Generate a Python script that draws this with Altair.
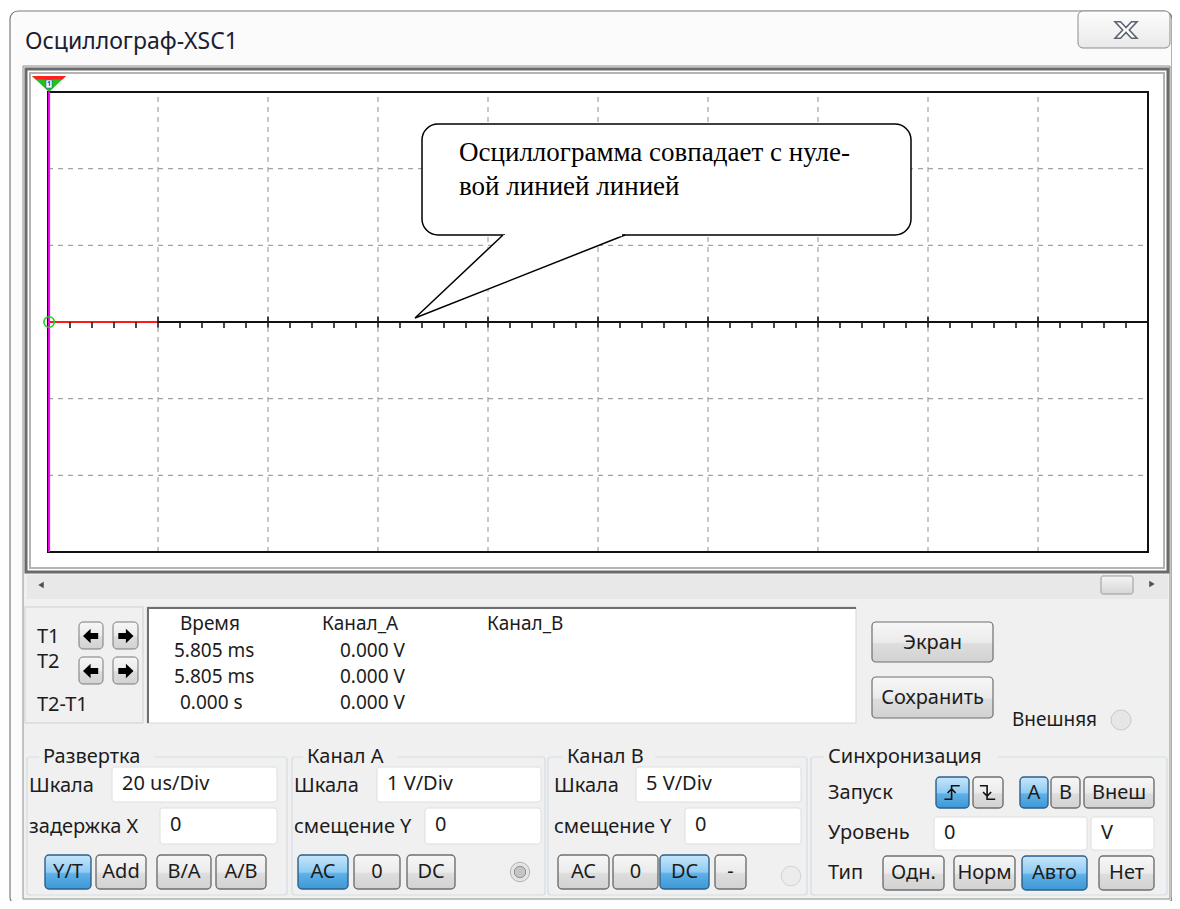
import altair as alt
import pandas as pd

# ---------------- values ----------------
WINDOW_TITLE = "Осциллограф-XSC1"
GRID_T_US = [0, 20, 40, 60, 80, 100, 120, 140, 160, 180, 200]   # 20 us/Div, 10 divisions
GRID_V = [-3, -2, -1, 0, 1, 2, 3]                                 # 1 V/Div, 6 divisions
MINOR_TICK_US = [t for t in range(0, 201, 4) if t % 20]           # graticule sub-divisions
TRACE_A_T_US = [0, 4, 8, 12, 16, 20]
TRACE_A_V = [0, 0, 0, 0, 0, 0]
CURSOR_T_US = 0.2
CALLOUT_LINES = ["Осциллограмма совпадает с нуле-", "вой линией линией"]
READ_HEADERS = ["Время", "Канал_А", "Канал_В"]
READ_ROW_LABELS = ["T1", "T2", "T2-T1"]
READ_TIME = ["5.805 ms", "5.805 ms", "0.000 s"]
READ_CH_A = ["0.000 V", "0.000 V", "0.000 V"]
SIDE_BUTTONS = ["Экран", "Сохранить"]
EXT_LABEL = "Внешняя"
GROUP_TITLES = ["Развертка", "Канал А", "Канал B", "Синхронизация"]
FIELD_LABELS = ["Шкала", "задержка X", "Шкала", "смещение Y", "Шкала", "смещение Y",
                "Запуск", "Уровень", "Тип"]
INPUT_VALUES = ["20 us/Div", "0", "1  V/Div", "0", "5  V/Div", "0", "0", "V"]
BUTTON_LABELS = ["Y/T", "Add", "B/A", "A/B", "AC", "0", "DC", "AC", "0", "DC", "-",
                 "A", "B", "Внеш", "Одн.", "Норм", "Авто", "Нет"]
BUTTON_ON = [True, False, False, False, True, False, False, False, False, True, False,
             True, False, False, False, False, True, False]
EDGE_ON = [True, False]

# ---------------- layout (pixels of the 1180x909 picture) ----------------
IMG_W, IMG_H, OFF = 1180, 909, 8
CW, CH = IMG_W - 2 * OFF, IMG_H - 2 * OFF
PX0, PX1, PY0, PY1 = 48, 1148, 92, 552
UI_FONT = "Noto Sans"
SERIF = "Liberation Serif"
TXT = "#1c1c1c"
LBL = 20
RD = 19

FIELD_POS = [(29, 786), (29, 827), (294, 786), (294, 827), (554, 786), (554, 827),
             (828, 793), (828, 833), (828, 873)]
INPUT_BOX = [(112, 277, 767, 802), (160, 277, 808, 844), (377, 541, 767, 802), (425, 541, 808, 844),
             (636, 801, 767, 802), (685, 801, 808, 844), (934, 1087, 817, 850), (1091, 1154, 817, 850)]
BUTTON_BOX = [(45, 91, 855, 889), (96, 146, 855, 889), (157, 211, 855, 889), (216, 266, 855, 889),
              (298, 348, 855, 889), (354, 400, 855, 889), (407, 455, 855, 889),
              (558, 609, 855, 889), (613, 658, 855, 889), (660, 709, 855, 889), (715, 746, 855, 889),
              (1020, 1048, 777, 808), (1051, 1080, 777, 808), (1084, 1154, 777, 808),
              (883, 944, 856, 890), (954, 1015, 856, 890), (1022, 1087, 856, 890), (1099, 1154, 856, 890)]
EDGE_BOX = [(936, 969, 777, 808), (973, 1003, 777, 808)]
GROUP_BOX = [(27, 287), (292, 545), (548, 807), (811, 1167)]
GROUP_TITLE_X = [43, 307, 567, 828]
GROUP_TITLE_W = [108, 86, 84, 166]


def ux(f):
    return alt.X(f, type="quantitative", axis=None,
                 scale=alt.Scale(domain=[0, IMG_W], range=[-OFF, IMG_W - OFF], nice=False, zero=False))


def uy(f):
    return alt.Y(f, type="quantitative", axis=None,
                 scale=alt.Scale(domain=[0, IMG_H], range=[-OFF, IMG_H - OFF], nice=False, zero=False))


def tx(f):
    return alt.X(f, type="quantitative", axis=None,
                 scale=alt.Scale(domain=[GRID_T_US[0], GRID_T_US[-1]], range=[PX0 - OFF, PX1 - OFF],
                                 nice=False, zero=False))


def vy(f):
    return alt.Y(f, type="quantitative", axis=None,
                 scale=alt.Scale(domain=[GRID_V[0], GRID_V[-1]], range=[PY1 - OFF, PY0 - OFF],
                                 nice=False, zero=False))


def rect_layer(rows, radius=0, gradient=None):
    d = pd.DataFrame(rows, columns=["x0", "x1", "y0", "y1", "fill", "stroke", "sw"])
    enc = dict(x=ux("x0"), x2=alt.X2("x1"), y=uy("y0"), y2=alt.Y2("y1"),
               stroke=alt.Stroke("stroke:N", scale=None),
               strokeWidth=alt.StrokeWidth("sw:Q", scale=None))
    if gradient is None:
        enc["fill"] = alt.Fill("fill:N", scale=None)
        m = alt.Chart(d).mark_rect(cornerRadius=radius, opacity=1)
    else:
        m = alt.Chart(d).mark_rect(cornerRadius=radius, fill=gradient, opacity=1)
    return m.encode(**enc)


def text_layer(rows, size, font=UI_FONT, color=TXT, align="left", baseline="middle", weight="normal"):
    d = pd.DataFrame(rows, columns=["x", "y", "text"])
    return alt.Chart(d).mark_text(align=align, baseline=baseline, font=font, fontSize=size,
                                  color=color, fontWeight=weight).encode(x=ux("x"), y=uy("y"), text="text:N")


def rule_layer(rows, color, width, dash=None):
    d = pd.DataFrame(rows, columns=["x0", "y0", "x1", "y1"])
    kw = dict(color=color, strokeWidth=width)
    if dash:
        kw["strokeDash"] = dash
    return alt.Chart(d).mark_rule(**kw).encode(x=ux("x0"), x2=alt.X2("x1"), y=uy("y0"), y2=alt.Y2("y1"))


def symbol_layer(rows, shape, size, fill=None, stroke=None, sw=1.0):
    d = pd.DataFrame(rows, columns=["x", "y"])
    kw = dict(shape=shape, size=size, opacity=1, strokeWidth=sw)
    if fill is None:
        kw["filled"] = False
    else:
        kw["filled"] = True
        kw["fill"] = fill
    if stroke is not None:
        kw["stroke"] = stroke
    else:
        kw["strokeWidth"] = 0
    return alt.Chart(d).mark_point(**kw).encode(x=ux("x"), y=uy("y"))


def grad(stops):
    return alt.LinearGradient(gradient="linear", x1=0, x2=0, y1=0, y2=1,
                              stops=[alt.GradientStop(color=c, offset=o) for o, c in stops])


GRAY_BTN = grad([(0, "#f7f7f7"), (0.5, "#ebebeb"), (0.55, "#dddddd"), (1, "#d2d2d2")])
BLUE_BTN = grad([(0, "#c7e6fb"), (0.5, "#8fcbf2"), (0.55, "#5fb0e6"), (1, "#3d98d6")])

layers = []

# window and title bar
layers.append(rect_layer([(10, 1172, 11, 905, "#fbfbfb", "#7c7c7c", 1.2)], radius=8))
layers.append(rect_layer([(1078, 1170, 11, 48, "", "#8d8d8d", 1)], radius=5,
                         gradient=grad([(0, "#fdfdfd"), (1, "#e9e9e9")])))
layers.append(symbol_layer([(1126, 30)],
                           "M -1 -0.75 L -0.5 -0.75 L 0 -0.22 L 0.5 -0.75 L 1 -0.75 L 0.3 0 L 1 0.75 "
                           "L 0.5 0.75 L 0 0.22 L -0.5 0.75 L -1 0.75 L -0.3 0 Z",
                           size=22 * 22, fill="#ffffff", stroke="#5f6472", sw=1.6))
layers.append(text_layer([(25, 42, WINDOW_TITLE)], 23, color="#1b2030"))

# content panel + screen frame
layers.append(rect_layer([(23, 1170, 66, 899, "#f0f0f0", "#8f8f8f", 1)]))
layers.append(rect_layer([(26, 1168, 69, 572, "#ffffff", "#6b6b6b", 3)]))
layers.append(rect_layer([(30, 1164, 73, 568, "#ffffff", "#b4b4b4", 2)]))

# scrollbar
layers.append(rect_layer([(27, 1168, 575, 599, "#e8e8e8", "#e8e8e8", 0)]))
layers.append(rect_layer([(1101, 1133, 576, 594, "", "#9a9a9a", 1)], radius=2,
                         gradient=grad([(0, "#f4f4f4"), (1, "#d6d6d6")])))
layers.append(symbol_layer([(41, 585)], "triangle-left", 40, fill="#505050"))
layers.append(symbol_layer([(1152, 584)], "triangle-right", 40, fill="#505050"))

# ---------------- oscilloscope screen (data scales) ----------------
grid_v = pd.DataFrame({"t": GRID_T_US[1:-1], "v0": GRID_V[0], "v1": GRID_V[-1]})
layers.append(alt.Chart(grid_v).mark_rule(color="#a4a4a4", strokeWidth=1.2, strokeDash=[5, 5]).encode(
    x=tx("t"), y=vy("v0"), y2=alt.Y2("v1")))
grid_h = pd.DataFrame({"v": GRID_V[1:-1], "t0": GRID_T_US[0], "t1": GRID_T_US[-1]})
layers.append(alt.Chart(grid_h).mark_rule(color="#a4a4a4", strokeWidth=1.2, strokeDash=[5, 5]).encode(
    y=vy("v"), x=tx("t0"), x2=alt.X2("t1")))
border = pd.DataFrame({"t0": [GRID_T_US[0]], "t1": [GRID_T_US[-1]], "v0": [GRID_V[0]], "v1": [GRID_V[-1]]})
layers.append(alt.Chart(border).mark_rect(fillOpacity=0, stroke="#111111", strokeWidth=2).encode(
    x=tx("t0"), x2=alt.X2("t1"), y=vy("v0"), y2=alt.Y2("v1")))
axis0 = pd.DataFrame({"v": [0], "t0": [GRID_T_US[0]], "t1": [GRID_T_US[-1]]})
layers.append(alt.Chart(axis0).mark_rule(color="#111111", strokeWidth=2).encode(
    y=vy("v"), x=tx("t0"), x2=alt.X2("t1")))
trace = pd.DataFrame({"t": TRACE_A_T_US, "v": TRACE_A_V})
layers.append(alt.Chart(trace).mark_line(color="#ff1a1a", strokeWidth=2.2).encode(x=tx("t"), y=vy("v")))
minor = pd.DataFrame({"t": MINOR_TICK_US, "v": 0})
layers.append(alt.Chart(minor).mark_tick(orient="vertical", size=6, thickness=1.6, color="#1a1a1a",
                                         yOffset=3, opacity=1).encode(x=tx("t"), y=vy("v")))
major = pd.DataFrame({"t": GRID_T_US[1:-1], "v": 0})
layers.append(alt.Chart(major).mark_tick(orient="vertical", size=11, thickness=1.6, color="#1a1a1a",
                                         opacity=1).encode(x=tx("t"), y=vy("v")))
cursor = pd.DataFrame({"t": [CURSOR_T_US], "v0": [GRID_V[0]], "v1": [GRID_V[-1]]})
layers.append(alt.Chart(cursor).mark_rule(color="#ff00ff", strokeWidth=2).encode(
    x=tx("t"), y=vy("v0"), y2=alt.Y2("v1")))
origin = pd.DataFrame({"t": [CURSOR_T_US], "v": [0]})
layers.append(alt.Chart(origin).mark_point(shape="circle", size=110, filled=False, color="#1ed21e",
                                           strokeWidth=1.6, opacity=1).encode(x=tx("t"), y=vy("v")))

# cursor flag
layers.append(symbol_layer([(49, 84)], "M -1 -0.47 L 1 -0.47 L 0 0.47 Z", 34 * 34, fill="#1fc21f"))
layers.append(symbol_layer([(49, 84)], "M -1 -0.47 L 1 -0.47 L 0.78 -0.26 L -0.78 -0.26 Z", 34 * 34,
                           fill="#ff2020"))
layers.append(rect_layer([(46, 52, 80, 88, "#ffffff", "#3050c0", 0.6)]))
layers.append(text_layer([(49, 84, "1")], 7, color="#2040c0", align="center", weight="bold"))

# callout
layers.append(rect_layer([(422, 911, 124, 235, "#ffffff", "#000000", 1.5)], radius=16))
layers.append(symbol_layer([(520, 276.5)], "M -0.162 -0.395 L -1 0.395 L 1 -0.395", 210 * 210,
                           fill="#ffffff", stroke="#000000", sw=1.5))
layers.append(rule_layer([(505, 235, 622, 235)], "#ffffff", 2.6))
layers.append(text_layer([(459, 161, CALLOUT_LINES[0]), (459, 195, CALLOUT_LINES[1])], 27,
                         font=SERIF, color="#000000", baseline="alphabetic"))

# ---------------- readout area ----------------
layers.append(rect_layer([(25, 143, 607, 723, "#f0f0f0", "#cfcfcf", 1)]))
layers.append(rect_layer([(147, 856, 607, 723, "#ffffff", "#d6d6d6", 1)]))
layers.append(rule_layer([(147, 608, 856, 608), (148, 607, 148, 723)], "#6e6e6e", 2))
layers.append(text_layer([(37, 637, READ_ROW_LABELS[0]), (37, 662, READ_ROW_LABELS[1]),
                          (37, 705, READ_ROW_LABELS[2])], LBL))
arrow_boxes = [(79, 103, 622, 649), (113, 138, 622, 649), (79, 103, 657, 684), (113, 138, 657, 684)]
layers.append(rect_layer([b + ("", "#7a7a7a", 1) for b in arrow_boxes], radius=4, gradient=GRAY_BTN))
larrow = "M -1 0 L -0.05 -0.9 L -0.05 -0.38 L 0.9 -0.38 L 0.9 0.38 L -0.05 0.38 L -0.05 0.9 Z"
rarrow = "M 1 0 L 0.05 -0.9 L 0.05 -0.38 L -0.9 -0.38 L -0.9 0.38 L 0.05 0.38 L 0.05 0.9 Z"
layers.append(symbol_layer([(91, 636), (91, 671)], larrow, 16 * 16, fill="#000000"))
layers.append(symbol_layer([(125.5, 636), (125.5, 671)], rarrow, 16 * 16, fill="#000000"))
layers.append(text_layer([(180, 624, READ_HEADERS[0]), (322, 624, READ_HEADERS[1]),
                          (487, 624, READ_HEADERS[2])], RD))
layers.append(text_layer([(174, 651, READ_TIME[0]), (174, 677, READ_TIME[1]), (180, 703, READ_TIME[2])], RD))
layers.append(text_layer([(340, 651, READ_CH_A[0]), (340, 677, READ_CH_A[1]), (340, 703, READ_CH_A[2])], RD))

side = [(872, 993, 622, 662), (872, 993, 677, 718)]
layers.append(rect_layer([b + ("", "#6f6f6f", 1.2) for b in side], radius=4, gradient=GRAY_BTN))
layers.append(text_layer([(932.5, 643, SIDE_BUTTONS[0]), (932.5, 698, SIDE_BUTTONS[1])], LBL, align="center"))
layers.append(text_layer([(1012, 720, EXT_LABEL)], 19))
layers.append(symbol_layer([(1121, 720)], "circle", 400, fill="#e6e6e6", stroke="#c9c9c9", sw=1))

# ---------------- control groups ----------------
layers.append(rect_layer([(g[0], g[1], 757, 895, "transparent", "#d3dde3", 1.2) for g in GROUP_BOX], radius=3))
layers.append(rect_layer([(x - 4, x + w + 4, 748, 766, "#f0f0f0", "#f0f0f0", 0)
                          for x, w in zip(GROUP_TITLE_X, GROUP_TITLE_W)]))
layers.append(text_layer([(x, 757, t) for x, t in zip(GROUP_TITLE_X, GROUP_TITLES)], LBL))
layers.append(text_layer([(p[0], p[1], t) for p, t in zip(FIELD_POS, FIELD_LABELS)], LBL))
layers.append(rect_layer([b + ("#ffffff", "#dedede", 1) for b in INPUT_BOX], radius=3))
layers.append(text_layer([(b[0] + 10, (b[2] + b[3]) / 2 - 1, v) for b, v in zip(INPUT_BOX, INPUT_VALUES)], LBL))

gray_b = [b for b, on in zip(BUTTON_BOX, BUTTON_ON) if not on] + [b for b, on in zip(EDGE_BOX, EDGE_ON) if not on]
blue_b = [b for b, on in zip(BUTTON_BOX, BUTTON_ON) if on] + [b for b, on in zip(EDGE_BOX, EDGE_ON) if on]
layers.append(rect_layer([b + ("", "#6f6f6f", 1.4) for b in gray_b], radius=4, gradient=GRAY_BTN))
layers.append(rect_layer([b + ("", "#2b5f8a", 1.4) for b in blue_b], radius=4, gradient=BLUE_BTN))
layers.append(text_layer([((b[0] + b[1]) / 2, (b[2] + b[3]) / 2, t) for b, t in zip(BUTTON_BOX, BUTTON_LABELS)],
                         LBL, align="center"))
rise = "M -0.9 0.75 L -0.1 0.75 L -0.1 -0.75 L 0.8 -0.75 M -0.55 0.05 L -0.1 -0.4 L 0.35 0.05"
fall = "M -0.9 -0.75 L -0.1 -0.75 L -0.1 0.75 L 0.8 0.75 M -0.55 -0.05 L -0.1 0.4 L 0.35 -0.05"
layers.append(symbol_layer([((EDGE_BOX[0][0] + EDGE_BOX[0][1]) / 2, 792.5)], rise, 18 * 18, stroke="#111111", sw=1.6))
layers.append(symbol_layer([((EDGE_BOX[1][0] + EDGE_BOX[1][1]) / 2, 792.5)], fall, 18 * 18, stroke="#111111", sw=1.6))

# radio buttons
layers.append(symbol_layer([(520, 872)], "circle", 380, fill="#e4e4e4", stroke="#b5b5b5", sw=1))
layers.append(symbol_layer([(520, 872)], "circle", 130, fill="#c4c4c4", stroke="#8f8f8f", sw=1))
layers.append(symbol_layer([(791, 876)], "circle", 380, fill="#ececec", stroke="#d2d2d2", sw=1))

chart = alt.layer(*layers).resolve_scale(x="independent", y="independent").properties(
    width=CW, height=CH, padding=0, autosize="none", background="#ffffff"
).configure_view(stroke=None)

chart.save("out.html", embed_options={"renderer": "svg", "actions": False})
